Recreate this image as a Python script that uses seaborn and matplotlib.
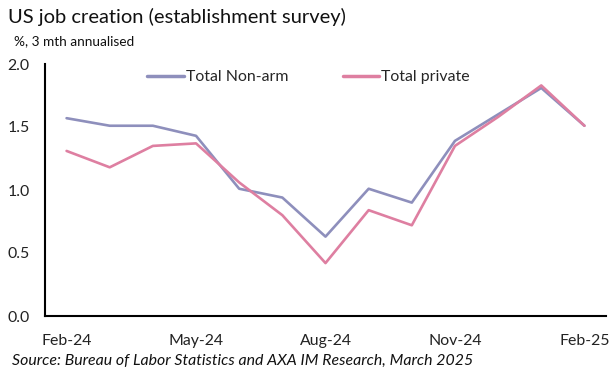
import matplotlib
matplotlib.use("Agg")
import matplotlib.pyplot as plt
import seaborn as sns
import pandas as pd
import numpy as np

months = ["Feb-24", "Mar-24", "Apr-24", "May-24", "Jun-24", "Jul-24", "Aug-24",
          "Sep-24", "Oct-24", "Nov-24", "Dec-24", "Jan-25", "Feb-25"]
nonfarm = [1.57, 1.51, 1.51, 1.43, 1.01, 0.94, 0.63, 1.01, 0.90, 1.39, 1.60, 1.81, 1.51]
private = [1.31, 1.18, 1.35, 1.37, 1.06, 0.80, 0.42, 0.84, 0.72, 1.35, 1.58, 1.83, 1.51]
series_names = ["Total Non-arm", "Total private"]
colors = ["#8e8fbc", "#de7fa1"]
yticks = [0.0, 0.5, 1.0, 1.5, 2.0]
xlabel_months = ["Feb-24", "May-24", "Aug-24", "Nov-24", "Feb-25"]

sns.set_style("white")
plt.rcParams['font.family'] = ['Lato', 'DejaVu Sans']

df = pd.DataFrame({
    "month": months * 2,
    "idx": list(range(len(months))) * 2,
    "value": nonfarm + private,
    "series": [series_names[0]] * len(months) + [series_names[1]] * len(months),
})

fig = plt.figure(figsize=(6.15, 3.79), dpi=100)
ax = fig.add_axes([45/615, 1-316/379, 561/615, 252/379])

sns.lineplot(data=df, x="idx", y="value", hue="series", palette=colors,
             linewidth=1.9, ax=ax, legend=True)

ax.set_xlim(-0.5, len(months) - 0.5)
ax.set_ylim(0, 2.0)
ax.set_yticks(yticks)
ax.set_yticklabels([f"{v:.1f}" for v in yticks], fontsize=11.4, color="#222222")
ax.tick_params(axis="y", direction="out", length=3, width=1.2, color="black", pad=8)

lab_idx = [months.index(m) for m in xlabel_months]
ax.set_xticks(lab_idx)
ax.set_xticklabels(xlabel_months, fontsize=11.4, color="#222222")
ax.tick_params(axis="x", which="major", length=0, pad=13)
ax.set_xticks(np.arange(-0.5, len(months) + 0.5, 1.0), minor=True)
ax.tick_params(axis="x", which="minor", direction="in", length=4, width=1.2, color="black")

ax.set_xlabel("")
ax.set_ylabel("")
for s in ["top", "right"]:
    ax.spines[s].set_visible(False)
for s in ["left", "bottom"]:
    ax.spines[s].set_color("black")
    ax.spines[s].set_linewidth(1.5)

leg = ax.legend(loc="center", bbox_to_anchor=(0.47, 0.948), ncol=2, frameon=False,
                fontsize=11.4, handlelength=2.3, handletextpad=0.15, columnspacing=3.4)
for line in leg.get_lines():
    line.set_linewidth(2.5)

fig.text(8/615, 1-17/379, "US job creation (establishment survey)", fontsize=14.5,
         va="center", ha="left", color="#111111")
fig.text(14/615, 1-41/379, "%, 3 mth annualised", fontsize=9.8,
         va="center", ha="left", color="#111111")
fig.text(12/615, 1-361/379, "Source: Bureau of Labor Statistics and AXA IM Research, March 2025",
         fontsize=11.4, style="italic", va="center", ha="left", color="#111111")

fig.savefig("out.png", dpi=100)
